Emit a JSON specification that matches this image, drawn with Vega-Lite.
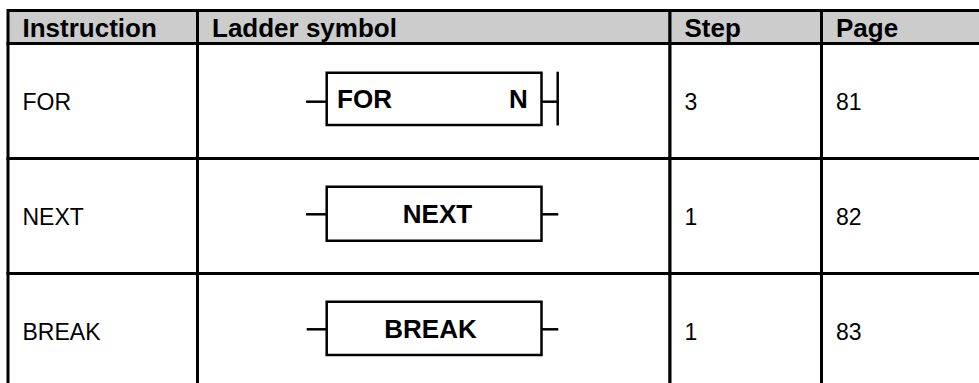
{
  "$schema": "https://vega.github.io/schema/vega-lite/v6.json",
  "width": 979,
  "height": 383,
  "autosize": {"type": "fit", "contains": "padding"},
  "padding": 0,
  "background": "white",
  "config": {"view": {"stroke": null}, "font": "Liberation Sans"},
  "datasets": {
    "cells": [
      {"row": 0, "col": "Instruction", "text": "Instruction"},
      {"row": 0, "col": "Ladder symbol", "text": "Ladder symbol"},
      {"row": 0, "col": "Step", "text": "Step"},
      {"row": 0, "col": "Page", "text": "Page"},
      {"row": 1, "col": "Instruction", "text": "FOR"},
      {"row": 1, "col": "Ladder symbol", "text": ""},
      {"row": 1, "col": "Step", "text": "3"},
      {"row": 1, "col": "Page", "text": "81"},
      {"row": 2, "col": "Instruction", "text": "NEXT"},
      {"row": 2, "col": "Ladder symbol", "text": ""},
      {"row": 2, "col": "Step", "text": "1"},
      {"row": 2, "col": "Page", "text": "82"},
      {"row": 3, "col": "Instruction", "text": "BREAK"},
      {"row": 3, "col": "Ladder symbol", "text": ""},
      {"row": 3, "col": "Step", "text": "1"},
      {"row": 3, "col": "Page", "text": "83"}
    ],
    "boxes": [
      {"row": 1, "instr": "FOR", "left": 326.7, "right": 541.5, "top": 72.7, "bottom": 125},
      {"row": 2, "instr": "NEXT", "left": 326.7, "right": 541.5, "top": 186.7, "bottom": 240.7},
      {"row": 3, "instr": "BREAK", "left": 326.7, "right": 541.5, "top": 301.7, "bottom": 355}
    ],
    "wires": [
      {"row": 1, "part": "in", "x": 306, "x2": 326.7, "y": 101.7, "y2": 101.7},
      {"row": 1, "part": "out", "x": 541.5, "x2": 557.7, "y": 101.7, "y2": 101.7},
      {"row": 1, "part": "bar", "x": 557.7, "x2": 557.7, "y": 71.7, "y2": 125.5},
      {"row": 2, "part": "in", "x": 306, "x2": 326.7, "y": 214.3, "y2": 214.3},
      {"row": 2, "part": "out", "x": 541.5, "x2": 558.3, "y": 214.3, "y2": 214.3},
      {"row": 3, "part": "in", "x": 306.7, "x2": 326.7, "y": 329.3, "y2": 329.3},
      {"row": 3, "part": "out", "x": 541.5, "x2": 558.3, "y": 329.3, "y2": 329.3}
    ],
    "labels": [
      {"row": 1, "text": "FOR", "x": 364.5, "y": 107.7},
      {"row": 1, "text": "N", "x": 518.5, "y": 107.7},
      {"row": 2, "text": "NEXT", "x": 437.5, "y": 223.3},
      {"row": 3, "text": "BREAK", "x": 430.5, "y": 337.7}
    ]
  },
  "layer": [
    {
      "data": {"name": "cells"},
      "transform": [
        {"lookup": "col", "from": {"data": {"values": [
          {"col": "Instruction", "left": 8, "right": 197.5},
          {"col": "Ladder symbol", "left": 197.5, "right": 670},
          {"col": "Step", "left": 670, "right": 821.5},
          {"col": "Page", "left": 821.5, "right": 995}
        ]}, "key": "col", "fields": ["left", "right"]}},
        {"lookup": "row", "from": {"data": {"values": [
          {"row": 0, "top": 10.5, "bottom": 43.5, "base": 36.7},
          {"row": 1, "top": 43.5, "bottom": 158.5, "base": 110},
          {"row": 2, "top": 158.5, "bottom": 273.5, "base": 225},
          {"row": 3, "top": 273.5, "bottom": 400, "base": 340}
        ]}, "key": "row", "fields": ["top", "bottom", "base"]}}
      ],
      "layer": [
        {
          "mark": {"type": "rect", "stroke": "black", "strokeWidth": 3, "clip": true},
          "encoding": {
            "x": {"field": "left", "type": "quantitative", "scale": {"domain": [0, 979], "nice": false, "zero": false}, "axis": null},
            "x2": {"field": "right"},
            "y": {"field": "top", "type": "quantitative", "scale": {"domain": [0, 383], "nice": false, "zero": false, "reverse": true}, "axis": null},
            "y2": {"field": "bottom"},
            "fill": {"condition": {"test": "datum.row == 0", "value": "#cccccc"}, "value": "white"}
          }
        },
        {
          "transform": [{"filter": "datum.row == 0"}],
          "mark": {"type": "text", "align": "left", "baseline": "alphabetic", "dx": 14.5, "fontSize": 26, "fontWeight": "bold", "color": "black"},
          "encoding": {
            "x": {"field": "left", "type": "quantitative", "scale": {"domain": [0, 979], "nice": false, "zero": false}, "axis": null},
            "y": {"field": "base", "type": "quantitative", "scale": {"domain": [0, 383], "nice": false, "zero": false, "reverse": true}, "axis": null},
            "text": {"field": "text"}
          }
        },
        {
          "transform": [{"filter": "datum.row > 0"}],
          "mark": {"type": "text", "align": "left", "baseline": "alphabetic", "dx": 14.5, "fontSize": 23, "color": "black"},
          "encoding": {
            "x": {"field": "left", "type": "quantitative", "scale": {"domain": [0, 979], "nice": false, "zero": false}, "axis": null},
            "y": {"field": "base", "type": "quantitative", "scale": {"domain": [0, 383], "nice": false, "zero": false, "reverse": true}, "axis": null},
            "text": {"field": "text"}
          }
        }
      ]
    },
    {
      "data": {"name": "boxes"},
      "mark": {"type": "rect", "fill": "white", "stroke": "black", "strokeWidth": 2.5},
      "encoding": {
        "x": {"field": "left", "type": "quantitative", "scale": {"domain": [0, 979], "nice": false, "zero": false}, "axis": null},
        "x2": {"field": "right"},
        "y": {"field": "top", "type": "quantitative", "scale": {"domain": [0, 383], "nice": false, "zero": false, "reverse": true}, "axis": null},
        "y2": {"field": "bottom"}
      }
    },
    {
      "data": {"name": "wires"},
      "mark": {"type": "rule", "color": "black", "strokeWidth": 2.5},
      "encoding": {
        "x": {"field": "x", "type": "quantitative", "scale": {"domain": [0, 979], "nice": false, "zero": false}, "axis": null},
        "x2": {"field": "x2"},
        "y": {"field": "y", "type": "quantitative", "scale": {"domain": [0, 383], "nice": false, "zero": false, "reverse": true}, "axis": null},
        "y2": {"field": "y2"}
      }
    },
    {
      "data": {"name": "labels"},
      "mark": {"type": "text", "align": "center", "baseline": "alphabetic", "fontSize": 26, "fontWeight": "bold", "color": "black"},
      "encoding": {
        "x": {"field": "x", "type": "quantitative", "scale": {"domain": [0, 979], "nice": false, "zero": false}, "axis": null},
        "y": {"field": "y", "type": "quantitative", "scale": {"domain": [0, 383], "nice": false, "zero": false, "reverse": true}, "axis": null},
        "text": {"field": "text"}
      }
    }
  ]
}
